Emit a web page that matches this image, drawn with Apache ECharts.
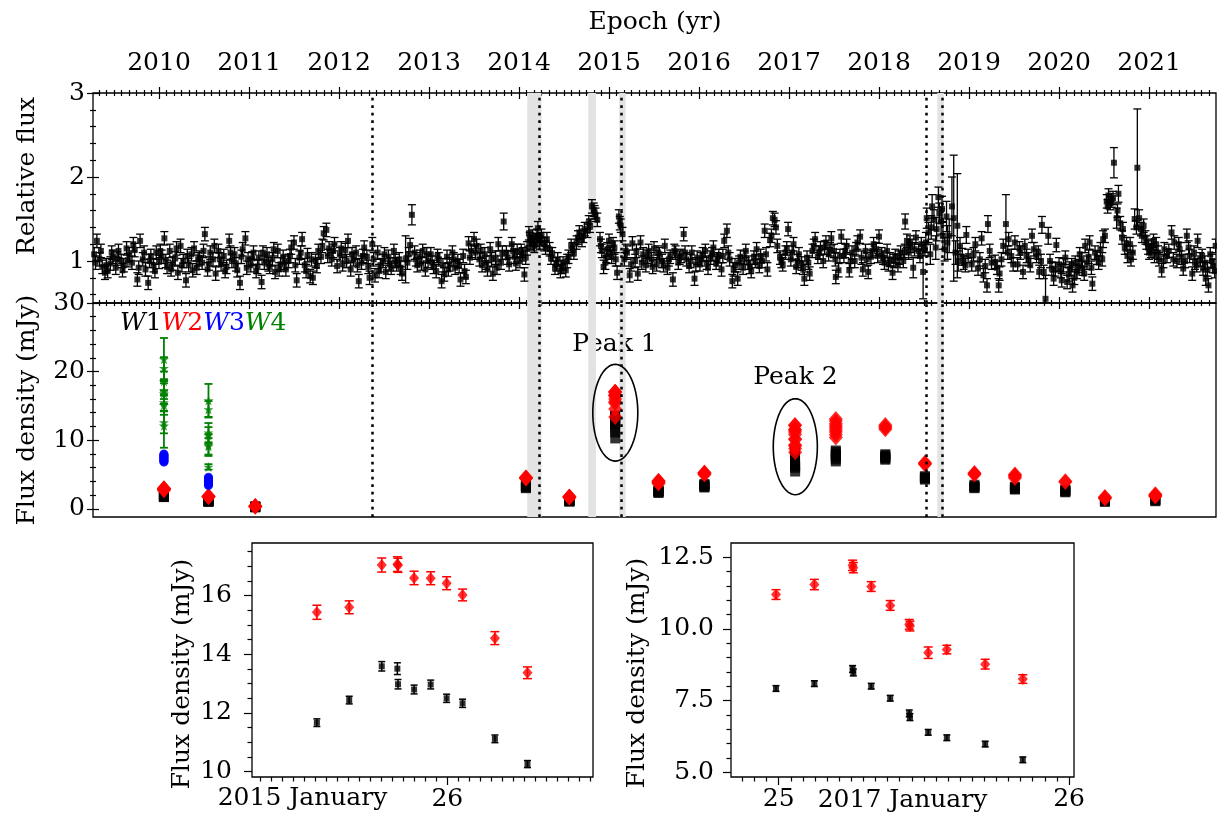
<!DOCTYPE html>
<html>
<head>
<meta charset="utf-8">
<title>WISE / optical light curve</title>
<script src="https://cdn.jsdelivr.net/npm/echarts@6/dist/echarts.min.js"></script>
<style>
  html, body { margin: 0; padding: 0; background: #fff; }
  #chart { width: 1217px; height: 817px; }
</style>
</head>
<body>
<div id="chart"></div>
<script>
// ---- axis ticks / labels ----
const YEARS = [2010, 2011, 2012, 2013, 2014, 2015, 2016, 2017, 2018, 2019, 2020, 2021];
const X_MIN = 2009.267, X_MAX = 2021.744;
const FLUX_TICKS = [1, 2, 3];
const FLUX_MINOR = [0.6, 0.8, 1.2, 1.4, 1.6, 1.8, 2.2, 2.4, 2.6, 2.8];
const MJY_TICKS = [0, 10, 20, 30];
const MJY_MINOR = [2, 4, 6, 8, 12, 14, 16, 18, 22, 24, 26, 28];
const INSET1_TICKS = [10, 12, 14, 16];
const INSET1_MINOR = [10.5, 11, 11.5, 12.5, 13, 13.5, 14.5, 15, 15.5, 16.5, 17, 17.5];
const INSET2_TICKS = [5, 7.5, 10, 12.5];
const INSET2_MINOR = [5.5, 6, 6.5, 7, 8, 8.5, 9, 9.5, 10.5, 11, 11.5, 12];

// ---- annotations ----
const dottedYears = [2012.37, 2014.225, 2015.14, 2018.53, 2018.703];
const greyBands = [[2014.092, 2014.25], [2014.77, 2014.855], [2015.114, 2015.185], [2018.648, 2018.72]];

// ---- optical relative flux: [year, flux, err?] ----
const OPT_ERR = 0.08;
const optical = [
  [2009.28,1.08],[2009.31,1.24],[2009.34,1.02],[2009.37,0.93],[2009.40,0.86],[2009.43,0.88],[2009.46,0.97],[2009.49,1.05],
  [2009.52,0.92],[2009.55,1.12],[2009.58,1.00],[2009.61,0.95],[2009.64,1.15],[2009.67,1.08],[2009.70,0.98],[2009.73,1.13],
  [2009.76,0.78],[2009.79,1.24],[2009.82,1.02],[2009.85,0.90],[2009.88,0.74],[2009.91,1.06],[2009.94,0.95],[2009.97,1.10],
  [2010.00,0.99],[2010.03,1.05],[2010.06,1.27],[2010.09,0.93],[2010.12,1.12],[2010.15,0.97],[2010.18,1.03],[2010.21,0.86],
  [2010.24,1.18],[2010.27,1.00],[2010.30,0.77],[2010.33,0.95],[2010.36,1.08],[2010.39,1.15],[2010.42,0.92],[2010.45,1.04],
  [2010.48,0.98],[2010.51,1.32],[2010.54,0.90],[2010.57,1.10],[2010.60,1.02],[2010.63,0.85],[2010.66,1.12],[2010.69,0.96],
  [2010.72,1.06],[2010.75,0.93],[2010.78,1.24],[2010.81,1.00],[2010.84,1.08],[2010.87,0.89],[2010.90,0.74],[2010.93,1.14],
  [2010.96,1.27],[2010.99,1.02],
  [2011.02,0.95],[2011.05,1.10],[2011.08,0.88],[2011.11,1.04],[2011.14,0.75],[2011.17,0.98],[2011.20,1.08],[2011.23,0.93],
  [2011.26,1.02],[2011.29,0.87],[2011.32,1.12],[2011.35,0.96],[2011.38,1.05],[2011.41,0.90],[2011.44,1.00],[2011.47,1.16],
  [2011.50,1.22],[2011.53,0.77],[2011.56,1.04],[2011.59,1.26],[2011.62,0.95],[2011.65,1.07],[2011.68,0.82],[2011.71,0.80],
  [2011.74,1.00],[2011.77,1.12],[2011.80,1.05],[2011.83,1.33],[2011.86,1.37],[2011.89,1.15],[2011.92,1.02],[2011.95,1.20],
  [2011.98,0.94],
  [2012.01,1.08],[2012.04,0.96],[2012.07,1.13],[2012.10,1.24],[2012.13,0.90],[2012.16,1.02],[2012.19,1.10],[2012.22,0.76],
  [2012.25,0.98],[2012.28,1.16],[2012.31,1.05],[2012.34,0.80],[2012.37,1.20],[2012.40,0.83],[2012.43,1.10],[2012.46,0.95],
  [2012.49,1.00],[2012.52,0.87],[2012.55,1.05],[2012.58,0.92],[2012.61,1.12],[2012.64,0.96],[2012.67,1.02],[2012.70,0.85],
  [2012.74,1.02,0.28],[2012.76,0.98],[2012.79,1.19],[2012.81,1.55,0.12],[2012.84,1.10],[2012.87,0.95],[2012.90,1.05],
  [2012.93,1.12],[2012.96,0.90],[2012.99,1.00],
  [2013.02,1.08],[2013.05,0.93],[2013.08,0.88],[2013.11,1.02],[2013.14,0.76],[2013.17,0.84],[2013.20,1.05],[2013.23,0.96],
  [2013.26,1.10],[2013.29,0.92],[2013.32,1.00],[2013.35,0.78],[2013.38,1.06],[2013.41,0.81],[2013.44,1.21],[2013.47,1.12],
  [2013.50,1.26],[2013.53,1.18],[2013.56,1.02],[2013.59,0.95],[2013.62,1.08],[2013.65,0.90],[2013.68,1.14],[2013.71,0.85],
  [2013.74,1.04],[2013.77,1.20],[2013.80,0.98],[2013.83,1.47,0.1],[2013.86,1.10],[2013.89,0.96],[2013.92,1.20],[2013.95,1.05],
  [2013.98,1.12],
  [2014.01,1.00],[2014.04,1.08],[2014.06,0.84],[2014.09,1.15],[2014.11,1.33],[2014.13,1.22],[2014.15,1.29],[2014.17,1.18],
  [2014.19,1.25],[2014.21,1.39],[2014.23,1.22],[2014.25,1.30],[2014.28,1.20],[2014.31,1.26],[2014.34,1.14],[2014.37,1.08],
  [2014.40,0.92],[2014.43,1.02],[2014.46,0.88],[2014.49,0.97],[2014.52,0.89],[2014.55,1.05],[2014.58,1.18],[2014.61,1.10],
  [2014.64,1.22],[2014.67,1.34],[2014.70,1.25],[2014.73,1.38],[2014.76,1.36],[2014.79,1.42],[2014.81,1.65],[2014.83,1.61],
  [2014.85,1.55],[2014.87,1.49],[2014.90,1.26],[2014.92,1.12],[2014.94,0.93],[2014.96,0.98],[2014.98,1.14],
  [2015.00,1.24],[2015.03,1.05],[2015.06,1.16],[2015.09,0.86],[2015.11,1.53],[2015.13,1.42],[2015.15,1.32],[2015.17,1.02],
  [2015.20,1.10],[2015.23,0.83],[2015.26,1.21],[2015.29,1.00],[2015.32,0.85],[2015.35,1.22],[2015.38,1.08],[2015.41,0.95],
  [2015.44,1.12],[2015.47,1.02],[2015.50,1.15],[2015.53,0.96],[2015.56,1.08],[2015.59,1.00],[2015.62,1.18],[2015.65,0.92],
  [2015.68,1.05],[2015.71,0.78],[2015.74,1.10],[2015.77,0.98],[2015.80,1.06],[2015.83,1.32],[2015.86,1.02],[2015.89,0.94],
  [2015.92,1.10],[2015.95,0.79],[2015.98,1.04],
  [2016.01,0.96],[2016.04,1.08],[2016.07,1.12],[2016.10,0.92],[2016.13,1.04],[2016.16,1.16],[2016.19,0.98],[2016.22,1.06],
  [2016.25,0.90],[2016.28,1.24],[2016.31,1.36],[2016.34,1.02],[2016.37,0.76],[2016.40,0.95],[2016.43,0.79],[2016.46,1.05],
  [2016.49,0.92],[2016.52,1.12],[2016.55,0.98],[2016.58,0.88],[2016.61,1.04],[2016.64,1.14],[2016.67,0.94],[2016.70,1.00],
  [2016.73,1.36],[2016.76,0.90],[2016.79,1.25],[2016.82,1.51],[2016.84,1.49],[2016.87,1.18],[2016.90,1.04],[2016.93,0.96],
  [2016.96,1.10],[2016.99,1.38],
  [2017.02,1.02],[2017.05,1.20],[2017.08,0.93],[2017.11,1.08],[2017.14,0.97],[2017.17,0.79],[2017.20,1.04],[2017.23,0.85],
  [2017.26,1.12],[2017.29,1.26],[2017.32,1.05],[2017.35,1.15],[2017.38,1.00],[2017.41,1.22],[2017.44,1.08],[2017.47,1.27],
  [2017.50,1.12],[2017.52,0.81],[2017.55,0.89],[2017.58,1.29],[2017.61,1.06],[2017.64,1.18],[2017.67,0.89],[2017.70,1.10],
  [2017.73,1.00],[2017.76,1.22],[2017.79,1.29],[2017.82,0.90],[2017.85,1.12],[2017.88,0.87],[2017.91,1.05],[2017.94,1.20],
  [2017.97,1.14],[2018.00,1.29],
  [2018.03,1.08],[2018.06,0.98],[2018.09,1.12],[2018.12,1.02],[2018.15,0.86],[2018.18,1.06],[2018.21,0.95],[2018.24,1.10],
  [2018.27,1.00],[2018.29,1.47,0.09],[2018.31,1.24],[2018.33,1.10],[2018.35,1.18],[2018.38,0.92,0.12],[2018.41,1.28],
  [2018.44,1.12],[2018.47,1.20],[2018.49,0.87,0.32],[2018.51,1.14],[2018.53,1.51,0.12],[2018.55,1.34,0.12],[2018.57,1.08,0.12],
  [2018.59,1.65,0.14],[2018.61,1.49,0.12],[2018.63,1.16,0.14],[2018.66,1.76,0.12],[2018.67,1.57,0.12],[2018.69,1.47,0.15],
  [2018.71,1.30,0.16],[2018.73,1.14,0.14],[2018.75,1.53,0.18],[2018.78,1.30,0.2],[2018.81,1.65,0.35],[2018.83,1.51,0.75],
  [2018.87,1.42,0.62],[2018.88,1.00,0.12],[2018.90,1.18,0.1],[2018.94,0.98],[2018.97,1.31,0.1],[2018.99,1.06],
  [2019.03,0.96],[2019.07,1.20],[2019.10,0.91],[2019.14,1.27],[2019.16,0.83],[2019.20,0.71],[2019.21,1.44,0.1],[2019.25,0.98],
  [2019.29,0.99],[2019.33,0.71],[2019.34,0.85],[2019.38,1.18],[2019.41,1.44,0.35],[2019.44,1.26],[2019.47,1.06],[2019.51,1.22],
  [2019.54,0.96],[2019.57,1.10],[2019.60,0.87],[2019.62,1.18],[2019.66,1.02],[2019.70,1.30],[2019.72,1.14],[2019.75,1.06],
  [2019.78,0.87],[2019.81,1.43,0.1],[2019.83,0.87],[2019.85,0.55,0.28],[2019.88,1.30,0.1],[2019.92,0.91],[2019.94,0.79],
  [2019.97,1.19],
  [2020.00,0.96],[2020.03,0.77],[2020.07,1.04],[2020.09,0.75],[2020.12,0.91],[2020.15,0.71],[2020.18,0.98],[2020.20,0.87],
  [2020.23,1.08],[2020.26,0.91],[2020.29,1.18],[2020.31,0.98],[2020.34,1.22],[2020.37,0.73],[2020.40,1.10],[2020.44,0.98],
  [2020.46,1.14],[2020.49,1.26,0.1],[2020.53,1.71],[2020.55,1.78],[2020.57,1.69],[2020.60,1.75],[2020.61,2.17,0.18],
  [2020.64,1.51,0.12],[2020.66,1.80,0.1],[2020.68,1.45],[2020.71,1.38],[2020.73,1.16],[2020.76,1.06],[2020.79,1.20],
  [2020.82,1.10],[2020.84,1.50,0.12],[2020.87,2.11,0.7],[2020.89,1.51,0.1],[2020.92,1.30],[2020.94,1.42],[2020.97,1.22],
  [2021.00,1.10],[2021.03,1.18],[2021.06,1.06],[2021.08,1.20],[2021.11,1.02],[2021.14,0.89],[2021.17,1.14],[2021.20,1.06],
  [2021.25,1.34],[2021.28,1.22],[2021.31,1.00],[2021.34,1.14],[2021.38,0.91],[2021.42,1.30],[2021.45,1.06],[2021.48,0.85],
  [2021.51,0.98],[2021.54,1.24],[2021.57,1.02],[2021.60,0.91],[2021.63,0.79],[2021.66,0.71],[2021.68,1.08],[2021.71,0.94],
  [2021.74,1.18],
  // interleaved visits
  [2009.295,0.98],[2009.355,1.12],[2009.415,0.95],[2009.475,1.10],[2009.535,1.03],[2009.595,0.89],[2009.655,1.01],[2009.715,1.20],
  [2009.775,0.92],[2009.835,1.10],[2009.895,1.00],[2009.955,0.88],
  [2010.015,1.12],[2010.075,1.00],[2010.135,0.90],[2010.195,1.15],[2010.255,0.95],[2010.315,1.06],[2010.375,0.89],[2010.435,1.02],
  [2010.495,1.12],[2010.555,0.97],[2010.615,1.18],[2010.675,1.02],[2010.735,0.88],[2010.795,1.10],[2010.855,0.96],[2010.915,1.05],
  [2010.975,0.92],
  [2011.035,1.03],[2011.095,0.93],[2011.155,1.10],[2011.215,0.96],[2011.275,1.14],[2011.335,0.90],[2011.395,0.98],[2011.455,1.06],
  [2011.515,0.95],[2011.575,1.10],[2011.635,0.88],[2011.695,1.02],[2011.755,0.94],[2011.815,1.18],[2011.875,1.06],[2011.935,1.12],
  [2012.025,1.15],[2012.085,1.00],[2012.145,1.08],[2012.205,0.95],[2012.265,1.06],[2012.325,0.93],[2012.385,1.02],[2012.445,0.88],
  [2012.505,1.08],[2012.565,0.96],[2012.625,1.00],[2012.685,0.92],[2012.775,1.08],[2012.855,1.02],[2012.915,0.97],[2012.975,1.08],
  [2013.035,0.98],[2013.095,1.06],[2013.155,0.95],[2013.215,0.90],[2013.275,1.02],[2013.335,0.94],[2013.395,0.88],[2013.455,1.04],
  [2013.515,1.10],[2013.575,1.12],[2013.635,0.98],[2013.695,1.02],[2013.755,0.92],[2013.815,1.10],[2013.875,1.04],[2013.935,1.12],
  [2013.965,0.97],
  [2014.025,1.12],[2014.075,1.04],[2014.12,1.26],[2014.16,1.20],[2014.20,1.30],[2014.24,1.26],[2014.295,1.16],[2014.355,1.04],
  [2014.415,0.96],[2014.475,0.93],[2014.535,1.00],[2014.595,1.14],[2014.655,1.28],[2014.715,1.30],[2014.775,1.46],[2014.84,1.58],
  [2014.91,1.18],[2014.97,1.06],
  [2015.015,1.10],[2015.045,1.20],[2015.075,1.02],[2015.12,1.45],[2015.185,1.12],[2015.245,0.96],[2015.305,1.12],[2015.365,0.98],
  [2015.425,1.05],[2015.485,0.93],[2015.545,1.10],[2015.605,0.95],[2015.665,1.02],[2015.725,1.12],[2015.785,1.04],[2015.845,1.10],
  [2015.905,1.00],[2015.965,0.96],
  [2016.025,1.02],[2016.085,0.98],[2016.145,1.08],[2016.205,1.02],[2016.265,1.06],[2016.325,1.10],[2016.385,0.90],[2016.445,0.98],
  [2016.505,1.04],[2016.565,0.93],[2016.625,1.00],[2016.685,1.06],[2016.745,1.08],[2016.805,1.30],[2016.855,1.40],[2016.915,1.00],
  [2016.975,1.15],
  [2017.035,1.10],[2017.095,1.00],[2017.155,0.92],[2017.215,0.98],[2017.275,1.18],[2017.335,1.10],[2017.395,1.16],[2017.455,1.14],
  [2017.515,1.02],[2017.565,1.06],[2017.625,1.12],[2017.685,1.00],[2017.745,1.14],[2017.805,1.04],[2017.865,1.02],[2017.925,1.12],
  [2017.985,1.06],
  [2018.045,1.04],[2018.105,0.96],[2018.165,1.00],[2018.225,1.04],[2018.285,1.12],[2018.345,1.22],[2018.395,1.14],[2018.455,1.06],
  [2018.52,1.22,0.12],[2018.58,1.40,0.14],[2018.64,1.38,0.14],[2018.70,1.62,0.15],[2018.76,1.22,0.2],[2018.85,1.10,0.14],
  [2018.925,1.05,0.1],[2018.96,0.95],
  [2019.05,1.08],[2019.12,1.02],[2019.18,0.94],[2019.23,1.12],[2019.31,0.92],[2019.36,1.02],[2019.43,1.10],[2019.49,0.96],
  [2019.56,1.15],[2019.64,1.06],[2019.68,0.95],[2019.77,1.10],[2019.80,1.00],[2019.90,1.00],[2019.96,0.90],
  [2020.02,0.88],[2020.05,0.95],[2020.11,0.84],[2020.14,0.95],[2020.17,0.80],[2020.22,0.94],[2020.25,1.02],[2020.28,0.85],
  [2020.33,1.05],[2020.36,0.92],[2020.42,1.04],[2020.48,1.02],[2020.51,1.30],[2020.54,1.65],[2020.585,1.72],[2020.65,1.60],
  [2020.70,1.28],[2020.75,1.20],[2020.80,1.02],[2020.86,1.40],[2020.91,1.38],[2020.96,1.28],[2020.99,1.16],
  [2021.02,1.12],[2021.05,1.24],[2021.10,1.10],[2021.16,1.00],[2021.22,1.12],[2021.27,1.02],[2021.33,1.20],[2021.36,1.04],
  [2021.40,1.00],[2021.44,1.16],[2021.50,1.10],[2021.53,0.95],[2021.59,1.06],[2021.62,0.98],[2021.65,0.90],[2021.70,1.00],
  [2021.73,0.88]
];

// ---- WISE flux densities (mJy), middle panel ----
const epochYears = [2010.055, 2010.55, 2011.07, 2014.077, 2014.56, 2015.55, 2016.06, 2017.52, 2018.07, 2018.51, 2019.06, 2019.51, 2020.07, 2020.51, 2021.07];
const w1ByEpoch = [
  [1.7, 1.75, 1.8, 1.85, 1.9, 2.0, 1.8], [1.0, 1.05, 1.1, 1.15, 1.2, 1.1], [0.2, 0.3, 0.35, 0.3, 0.25],
  [3.0, 3.1, 3.2, 3.3, 3.4, 3.2], [1.05, 1.1, 1.15, 1.2, 1.25, 1.1], [2.3, 2.4, 2.5, 2.6, 2.7, 2.5],
  [3.1, 3.2, 3.3, 3.4, 3.5, 3.6], [6.9, 7.2, 7.5, 7.8, 8.0, 8.3, 8.5], [7.15, 7.3, 7.45, 7.6, 7.8, 7.95],
  [4.25, 4.4, 4.5, 4.6, 4.75], [3.0, 3.1, 3.2, 3.3, 3.5], [2.8, 2.9, 3.0, 3.1, 3.2],
  [2.4, 2.5, 2.6, 2.7, 2.8], [1.0, 1.1, 1.2, 1.3], [1.1, 1.2, 1.3, 1.4]
];
const w2ByEpoch = [
  [2.7, 2.8, 2.9, 3.0, 2.85, 2.95], [1.7, 1.75, 1.8, 1.85], [0.3, 0.35, 0.4, 0.35],
  [4.4, 4.5, 4.6, 4.5], [1.6, 1.7, 1.75, 1.8], [3.7, 3.8, 3.9, 4.0, 4.1],
  [5.0, 5.1, 5.2, 5.3], [10.4, 10.8, 11.2, 11.5, 11.8, 12.1, 12.4, 12.8, 13.1], [11.6, 11.8, 12.0, 12.2],
  [6.5, 6.6, 6.7], [5.0, 5.1, 5.2], [4.5, 4.7, 4.9, 5.0],
  [3.9, 4.0], [1.5, 1.6, 1.7], [1.8, 1.9, 2.0, 2.1]
];
const w34Years = [2010.055, 2010.55];
const w3ByEpoch = [
  [6.8, 6.9, 7.0, 7.1, 7.2, 7.3, 7.4, 7.5, 7.6, 7.7, 7.8, 7.9, 8.0],
  [3.4, 3.5, 3.6, 3.8, 3.9, 4.0, 4.1, 4.2, 4.4, 4.5, 4.6]
];
const w4ByEpoch = [   // [value, err]
  [[21.8, 3.1], [20.5, 1.6], [18.6, 1.4], [17.3, 1.3], [16.8, 1.5], [15.5, 1.2], [15.1, 1.4], [12.6, 1.6], [12.1, 3.2]],
  [[15.8, 2.4], [14.5, 1.2], [11.1, 1.4], [10.7, 1.2], [9.3, 1.6], [9.1, 1.2], [6.1, 0.4]]
];

// ---- insets: hours from the day start, W1/W2 [value, err] ----
const peak1Year = 2015.0685;   // 2015 January 26.0
const peak1Hours = [-11.86, -8.92, -5.96, -4.54, -4.48, -3.02, -1.51, -0.06, 1.39, 4.33, 7.29];
const peak1W1 = [[11.67,0.13],[12.44,0.13],[13.59,0.16],[13.51,0.2],[12.98,0.16],[12.80,0.15],[12.97,0.15],[12.50,0.14],[12.33,0.14],[11.12,0.13],[10.26,0.12]];
const peak1W2 = [[15.43,0.24],[15.60,0.22],[17.04,0.24],[17.07,0.25],[17.03,0.24],[16.60,0.23],[16.59,0.22],[16.42,0.22],[16.02,0.2],[14.55,0.22],[13.37,0.2]];
const peak2Year = 2017.0658;   // 2017 January 25.0
const peak2Hours = [-0.22, 2.95, 6.11, 6.17, 7.65, 9.22, 10.79, 10.85, 12.36, 13.90, 17.07, 20.18];
const peak2W1 = [[7.92,0.1],[8.09,0.1],[8.60,0.12],[8.48,0.12],[8.00,0.1],[7.58,0.1],[7.05,0.12],[6.92,0.12],[6.39,0.1],[6.20,0.1],[5.98,0.1],[5.43,0.1]];
const peak2W2 = [[11.20,0.17],[11.55,0.18],[12.22,0.18],[12.14,0.18],[11.48,0.17],[10.82,0.17],[10.16,0.17],[10.10,0.17],[9.17,0.2],[9.28,0.15],[8.77,0.17],[8.25,0.15]];
// ellipses round the peaks: [year, mJy, half width (yr), half height (mJy)]
const peakRings = [[2015.07, 14.0, 0.25, 7.05], [2017.07, 9.05, 0.245, 7.0]];

const FONT = 'DejaVu Serif';
const HOURS_PER_YEAR = 8766;

// ---- helpers ----
function tickAxis(gridIndex, position, min, max, values, len, inout) {
  return {
    type: 'value', gridIndex, position, min, max,
    offset: inout ? -len / 2 : 0,
    axisLine: { show: false, onZero: false }, splitLine: { show: false }, axisLabel: { show: false },
    axisTick: { show: true, customValues: values, length: len, lineStyle: { color: '#000', width: 1.2 } }
  };
}
function labelAxis(gridIndex, position, min, max, values, margin, fmt) {
  return {
    type: 'value', gridIndex, position, min, max,
    axisLine: { show: false, onZero: false }, axisTick: { show: false }, splitLine: { show: false },
    axisLabel: { show: true, customValues: values, margin, fontSize: 25, fontFamily: FONT, color: '#000',
      formatter: fmt || (v => String(v)) }
  };
}
function errorBars(color, cap, width) {
  return function (params, api) {
    const x = api.value(0), y = api.value(1), e = api.value(2);
    const lo = api.coord([x, y - e]), hi = api.coord([x, y + e]);
    const st = { stroke: color, lineWidth: width };
    return { type: 'group', children: [
      { type: 'line', shape: { x1: lo[0], y1: lo[1], x2: hi[0], y2: hi[1] }, style: st },
      { type: 'line', shape: { x1: lo[0] - cap, y1: lo[1], x2: lo[0] + cap, y2: lo[1] }, style: st },
      { type: 'line', shape: { x1: hi[0] - cap, y1: hi[1], x2: hi[0] + cap, y2: hi[1] }, style: st }
    ]};
  };
}
function ringItem(params, api) {
  const c = api.coord([api.value(0), api.value(1)]);
  const s = api.size([api.value(2), api.value(3)]);
  const pts = [];
  for (let k = 0; k <= 72; k++) {
    const a = k / 72 * 2 * Math.PI;
    pts.push([c[0] + s[0] * Math.cos(a), c[1] + s[1] * Math.sin(a)]);
  }
  return { type: 'polyline', shape: { points: pts }, style: { stroke: '#000', lineWidth: 1.6, fill: 'none' } };
}
function range(a, b, skip) {
  const out = [];
  for (let v = a; v <= b; v++) if (!skip.includes(v)) out.push(v);
  return out;
}

const monthTicks = [];
for (let y = 2009; y <= 2021; y++) {
  for (let m = 1; m < 12; m++) {
    const v = y + m / 12;
    if (v > X_MIN && v < X_MAX) monthTicks.push(v);
  }
}

// ---- series data ----
const optData = optical.map(p => [p[0], p[1], p.length > 2 ? p[2] : OPT_ERR]);

const w1Mid = [], w2Mid = [];
epochYears.forEach((t, i) => {
  w1ByEpoch[i].forEach(v => w1Mid.push([t, v]));
  w2ByEpoch[i].forEach(v => w2Mid.push([t, v]));
});
peak1Hours.forEach((h, i) => {
  w1Mid.push([peak1Year + h / HOURS_PER_YEAR, peak1W1[i][0]]);
  w2Mid.push([peak1Year + h / HOURS_PER_YEAR, peak1W2[i][0]]);
});
peak2Hours.forEach((h, i) => {
  w1Mid.push([peak2Year + h / HOURS_PER_YEAR, peak2W1[i][0]]);
  w2Mid.push([peak2Year + h / HOURS_PER_YEAR, peak2W2[i][0]]);
});
const w3Mid = [], w4Mid = [];
w34Years.forEach((t, i) => {
  w3ByEpoch[i].forEach(v => w3Mid.push([t, v]));
  w4ByEpoch[i].forEach(p => w4Mid.push([t, p[0], p[1]]));
});
const in1W1 = peak1Hours.map((h, i) => [h, peak1W1[i][0], peak1W1[i][1]]);
const in1W2 = peak1Hours.map((h, i) => [h, peak1W2[i][0], peak1W2[i][1]]);
const in2W1 = peak2Hours.map((h, i) => [h, peak2W1[i][0], peak2W1[i][1]]);
const in2W2 = peak2Hours.map((h, i) => [h, peak2W2[i][0], peak2W2[i][1]]);

const STAR = 'path://M50,2 L61.8,36.2 L97.6,36.2 L68.7,57.3 L79.4,91.5 L50,70.6 L20.6,91.5 L31.3,57.3 L2.4,36.2 L38.2,36.2 Z';
const RED = '#ff0000', BLUE = '#0000ff', GREEN = '#008000';

const G1X = [-17.76, 13.25], G1Y = [9.82, 17.79];
const G2X = [-3.94, 24.41], G2Y = [4.83, 13.0];

function bandSeries(xi, yi) {
  return {
    type: 'line', data: [], xAxisIndex: xi, yAxisIndex: yi, z: 1, silent: true,
    markArea: { silent: true, itemStyle: { color: '#e3e3e3' },
      data: greyBands.map(b => [{ xAxis: b[0] }, { xAxis: b[1] }]) }
  };
}
function dottedSeries(xi, yi) {
  return {
    type: 'line', data: [], xAxisIndex: xi, yAxisIndex: yi, z: 6, silent: true,
    markLine: { silent: true, symbol: 'none', label: { show: false }, animation: false,
      lineStyle: { color: '#000', width: 2.5, type: [2.7, 4.8], cap: 'butt' },
      data: dottedYears.map(v => ({ xAxis: v })) }
  };
}

const textStyle = (size) => ({ font: size + 'px "' + FONT + '"', fill: '#000', align: 'center', verticalAlign: 'middle',
  textAlign: 'center', textVerticalAlign: 'middle' });

const chart = echarts.init(document.getElementById('chart'), null, { renderer: 'canvas' });
chart.setOption({
  animation: false,
  backgroundColor: '#fff',
  textStyle: { fontFamily: FONT },
  grid: [
    { left: 93, top: 93, width: 1123, height: 210, show: true, borderColor: '#000', borderWidth: 1.3 },
    { left: 93, top: 303, width: 1123, height: 214, show: true, borderColor: '#000', borderWidth: 1.3 },
    { left: 252, top: 543, width: 341, height: 234, show: true, borderColor: '#000', borderWidth: 1.3 },
    { left: 731, top: 543, width: 343, height: 234, show: true, borderColor: '#000', borderWidth: 1.3 }
  ],
  xAxis: [
    labelAxis(0, 'top', X_MIN, X_MAX, YEARS, 17),
    tickAxis(0, 'top', X_MIN, X_MAX, YEARS, 12, true),
    tickAxis(0, 'top', X_MIN, X_MAX, monthTicks, 6, true),
    tickAxis(1, 'top', X_MIN, X_MAX, YEARS, 12, true),
    tickAxis(1, 'top', X_MIN, X_MAX, monthTicks, 6, true),
    labelAxis(2, 'bottom', G1X[0], G1X[1], [0], 10, () => '26'),
    tickAxis(2, 'bottom', G1X[0], G1X[1], [0], 8, false),
    tickAxis(2, 'bottom', G1X[0], G1X[1], range(-17, 13, [0]), 4.5, false),
    labelAxis(3, 'bottom', G2X[0], G2X[1], [0, 24], 10, v => (v === 0 ? '25' : '26')),
    tickAxis(3, 'bottom', G2X[0], G2X[1], [0, 24], 8, false),
    tickAxis(3, 'bottom', G2X[0], G2X[1], range(-3, 24, [0, 24]), 4.5, false)
  ],
  yAxis: [
    labelAxis(0, 'left', 0.5, 3, FLUX_TICKS, 8),
    tickAxis(0, 'left', 0.5, 3, FLUX_TICKS, 12, true),
    tickAxis(0, 'left', 0.5, 3, FLUX_MINOR, 6, true),
    labelAxis(1, 'left', -1.2, 30, MJY_TICKS, 8),
    tickAxis(1, 'left', -1.2, 30, MJY_TICKS, 12, true),
    tickAxis(1, 'left', -1.2, 30, MJY_MINOR, 6, true),
    labelAxis(2, 'left', G1Y[0], G1Y[1], INSET1_TICKS, 20),
    tickAxis(2, 'left', G1Y[0], G1Y[1], INSET1_TICKS, 8, false),
    tickAxis(2, 'left', G1Y[0], G1Y[1], INSET1_MINOR, 4.5, false),
    labelAxis(3, 'left', G2Y[0], G2Y[1], INSET2_TICKS, 17, v => v.toFixed(1)),
    tickAxis(3, 'left', G2Y[0], G2Y[1], INSET2_TICKS, 8, false),
    tickAxis(3, 'left', G2Y[0], G2Y[1], INSET2_MINOR, 4.5, false)
  ],
  series: [
    // top panel
    bandSeries(0, 0),
    { type: 'custom', xAxisIndex: 0, yAxisIndex: 0, z: 2, clip: true, silent: true,
      renderItem: errorBars('#000', 4, 1.3), encode: { x: 0, y: 1 }, data: optData },
    { type: 'scatter', xAxisIndex: 0, yAxisIndex: 0, z: 3, silent: true, symbol: 'rect', symbolSize: 6,
      itemStyle: { color: '#000' }, data: optData.map(p => [p[0], p[1]]) },
    dottedSeries(0, 0),
    // middle panel
    bandSeries(3, 3),
    { type: 'scatter', xAxisIndex: 3, yAxisIndex: 3, z: 2, silent: true, symbol: 'rect', symbolSize: 10,
      itemStyle: { color: '#000' }, data: w1Mid },
    { type: 'scatter', xAxisIndex: 3, yAxisIndex: 3, z: 3, silent: true, symbol: 'diamond', symbolSize: [14, 16],
      itemStyle: { color: RED }, data: w2Mid },
    { type: 'custom', xAxisIndex: 3, yAxisIndex: 3, z: 3, clip: true, silent: true,
      renderItem: errorBars(GREEN, 4, 1.8), encode: { x: 0, y: 1 }, data: w4Mid },
    { type: 'scatter', xAxisIndex: 3, yAxisIndex: 3, z: 4, silent: true, symbol: STAR, symbolSize: 10,
      itemStyle: { color: GREEN }, data: w4Mid.map(p => [p[0], p[1]]) },
    { type: 'scatter', xAxisIndex: 3, yAxisIndex: 3, z: 5, silent: true, symbol: 'circle', symbolSize: 9,
      itemStyle: { color: BLUE }, data: w3Mid },
    { type: 'custom', xAxisIndex: 3, yAxisIndex: 3, z: 5, silent: true,
      renderItem: ringItem, encode: { x: 0, y: 1 }, data: peakRings },
    dottedSeries(3, 3),
    // inset: peak 1
    { type: 'custom', xAxisIndex: 5, yAxisIndex: 6, z: 2, silent: true,
      renderItem: errorBars('#000', 3.5, 1.5), encode: { x: 0, y: 1 }, data: in1W1 },
    { type: 'scatter', xAxisIndex: 5, yAxisIndex: 6, z: 3, silent: true, symbol: 'rect', symbolSize: 6,
      itemStyle: { color: '#000' }, data: in1W1.map(p => [p[0], p[1]]) },
    { type: 'custom', xAxisIndex: 5, yAxisIndex: 6, z: 2, silent: true,
      renderItem: errorBars(RED, 4.5, 1.5), encode: { x: 0, y: 1 }, data: in1W2 },
    { type: 'scatter', xAxisIndex: 5, yAxisIndex: 6, z: 3, silent: true, symbol: 'diamond', symbolSize: [10, 12],
      itemStyle: { color: RED }, data: in1W2.map(p => [p[0], p[1]]) },
    // inset: peak 2
    { type: 'custom', xAxisIndex: 8, yAxisIndex: 9, z: 2, silent: true,
      renderItem: errorBars('#000', 3.5, 1.5), encode: { x: 0, y: 1 }, data: in2W1 },
    { type: 'scatter', xAxisIndex: 8, yAxisIndex: 9, z: 3, silent: true, symbol: 'rect', symbolSize: 6,
      itemStyle: { color: '#000' }, data: in2W1.map(p => [p[0], p[1]]) },
    { type: 'custom', xAxisIndex: 8, yAxisIndex: 9, z: 2, silent: true,
      renderItem: errorBars(RED, 4.5, 1.5), encode: { x: 0, y: 1 }, data: in2W2 },
    { type: 'scatter', xAxisIndex: 8, yAxisIndex: 9, z: 3, silent: true, symbol: 'diamond', symbolSize: [10, 12],
      itemStyle: { color: RED }, data: in2W2.map(p => [p[0], p[1]]) }
  ],
  graphic: [
    { type: 'text', x: 655, y: 22, style: Object.assign({ text: 'Epoch (yr)' }, textStyle(25)) },
    { type: 'text', x: 27, y: 176, rotation: Math.PI / 2, style: Object.assign({ text: 'Relative flux' }, textStyle(25)) },
    { type: 'text', x: 27, y: 410, rotation: Math.PI / 2, style: Object.assign({ text: 'Flux density (mJy)' }, textStyle(25)) },
    { type: 'text', x: 182, y: 674, rotation: Math.PI / 2, style: Object.assign({ text: 'Flux density (mJy)' }, textStyle(25)) },
    { type: 'text', x: 637, y: 673, rotation: Math.PI / 2, style: Object.assign({ text: 'Flux density (mJy)' }, textStyle(25)) },
    { type: 'text', x: 302.5, y: 798, style: Object.assign({ text: '2015 January' }, textStyle(25)) },
    { type: 'text', x: 902.5, y: 800, style: Object.assign({ text: '2017 January' }, textStyle(25)) },
    { type: 'text', x: 614.5, y: 344, style: Object.assign({ text: 'Peak 1' }, textStyle(25)) },
    { type: 'text', x: 795.5, y: 377, style: Object.assign({ text: 'Peak 2' }, textStyle(25)) },
    { type: 'text', x: 120, y: 323, style: {
        text: '{a|W}{b|1}{c|W}{d|2}{e|W}{f|3}{g|W}{h|4}',
        verticalAlign: 'middle', textVerticalAlign: 'middle',
        rich: {
          a: { fontFamily: FONT, fontSize: 25, fontStyle: 'italic', fill: '#000', color: '#000' },
          b: { fontFamily: FONT, fontSize: 25, fill: '#000', color: '#000' },
          c: { fontFamily: FONT, fontSize: 25, fontStyle: 'italic', fill: RED, color: RED },
          d: { fontFamily: FONT, fontSize: 25, fill: RED, color: RED },
          e: { fontFamily: FONT, fontSize: 25, fontStyle: 'italic', fill: BLUE, color: BLUE },
          f: { fontFamily: FONT, fontSize: 25, fill: BLUE, color: BLUE },
          g: { fontFamily: FONT, fontSize: 25, fontStyle: 'italic', fill: GREEN, color: GREEN },
          h: { fontFamily: FONT, fontSize: 25, fill: GREEN, color: GREEN }
        }
      } }
  ]
});
</script>
</body>
</html>
